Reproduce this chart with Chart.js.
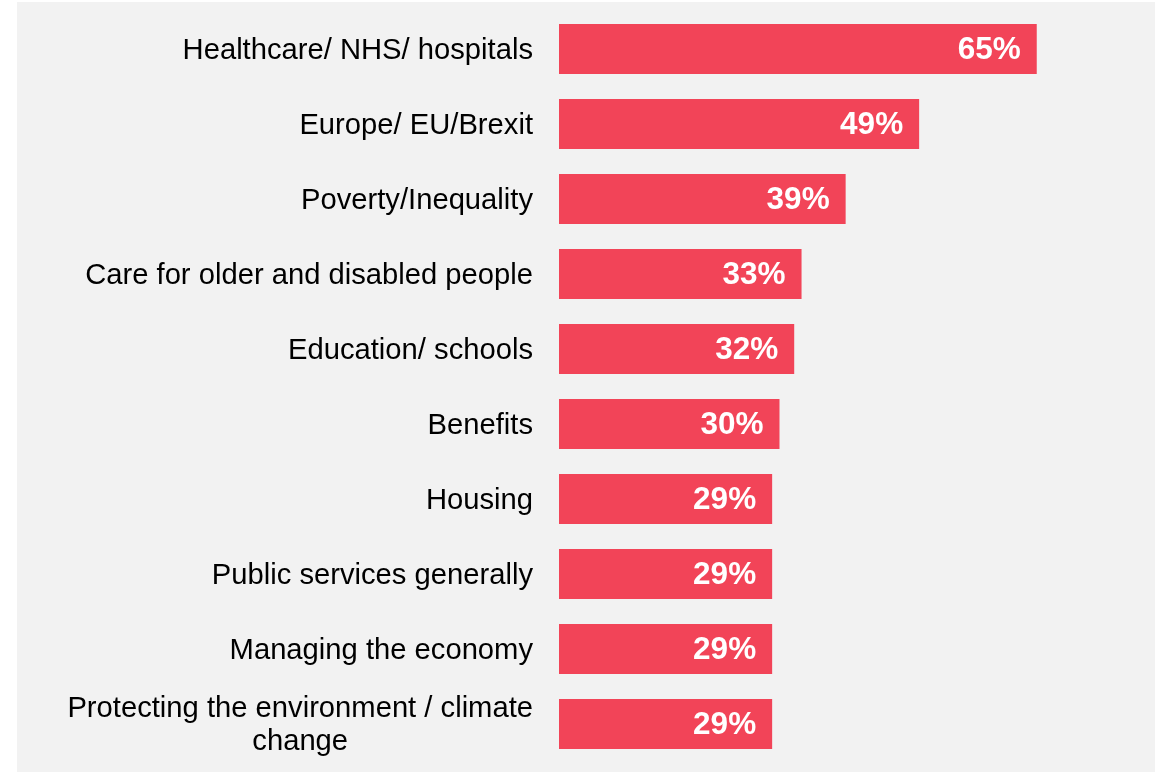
<!DOCTYPE html>
<html>
<head>
<meta charset="utf-8">
<script src="https://cdn.jsdelivr.net/npm/chart.js@4"></script>
<style>
  body { margin: 0; background: #fff; }
  #wrap { position: absolute; left: 17px; top: 2px; width: 1138px; height: 770px; background: #f2f2f2; }
</style>
</head>
<body>
<div id="wrap"><canvas id="chart"></canvas></div>
<script>
// categories (multi-line label as array)
const categories = [
    'Healthcare/ NHS/ hospitals',
    'Europe/ EU/Brexit',
    'Poverty/Inequality',
    'Care for older and disabled people',
    'Education/ schools',
    'Benefits',
    'Housing',
    'Public services generally',
    'Managing the economy',
    ['Protecting the environment / climate', 'change']
];
const values = [65, 49, 39, 33, 32, 30, 29, 29, 29, 29];

// draws category labels to the left of the bars
const categoryLabels = {
    id: 'categoryLabels',
    afterDraw(chart) {
        const ctx = chart.ctx;
        const y = chart.scales.y;
        const right = chart.chartArea.left - 26;
        ctx.save();
        ctx.font = '29.2px "Liberation Sans", Arial, sans-serif';
        ctx.fillStyle = '#000';
        ctx.textBaseline = 'middle';
        categories.forEach((lab, i) => {
            const lines = Array.isArray(lab) ? lab : [lab];
            const cy = y.getPixelForValue(i) + 1.5;
            const lh = 33;
            const maxW = Math.max(...lines.map(l => ctx.measureText(l).width));
            ctx.textAlign = 'center';
            lines.forEach((l, j) => {
                ctx.fillText(l, right - maxW / 2, cy + (j - (lines.length - 1) / 2) * lh);
            });
        });
        ctx.restore();
    }
};

// white value labels inside the bar ends
const valueLabels = {
    id: 'valueLabels',
    afterDatasetsDraw(chart) {
        const ctx = chart.ctx;
        const meta = chart.getDatasetMeta(0);
        ctx.save();
        ctx.font = 'bold 31.5px "Liberation Sans", Arial, sans-serif';
        ctx.fillStyle = '#fff';
        ctx.textAlign = 'right';
        ctx.textBaseline = 'middle';
        meta.data.forEach((bar, i) => {
            ctx.fillText(values[i] + '%', bar.x - 16, bar.y + 1.5);
        });
        ctx.restore();
    }
};

new Chart(document.getElementById('chart').getContext('2d'), {
    type: 'bar',
    data: {
        labels: categories,
        datasets: [{
            data: values,
            backgroundColor: '#f24458',
            barPercentage: 0.667,
            categoryPercentage: 1
        }]
    },
    options: {
        indexAxis: 'y',
        responsive: true,
        maintainAspectRatio: false,
        animation: false,
        layout: { padding: { left: 542, right: 8, top: 9.5, bottom: 10.5 } },
        plugins: { legend: { display: false }, tooltip: { enabled: false } },
        scales: {
            x: { display: false, min: 0, max: 80 },
            y: { display: false }
        }
    },
    plugins: [categoryLabels, valueLabels]
});
</script>
</body>
</html>
